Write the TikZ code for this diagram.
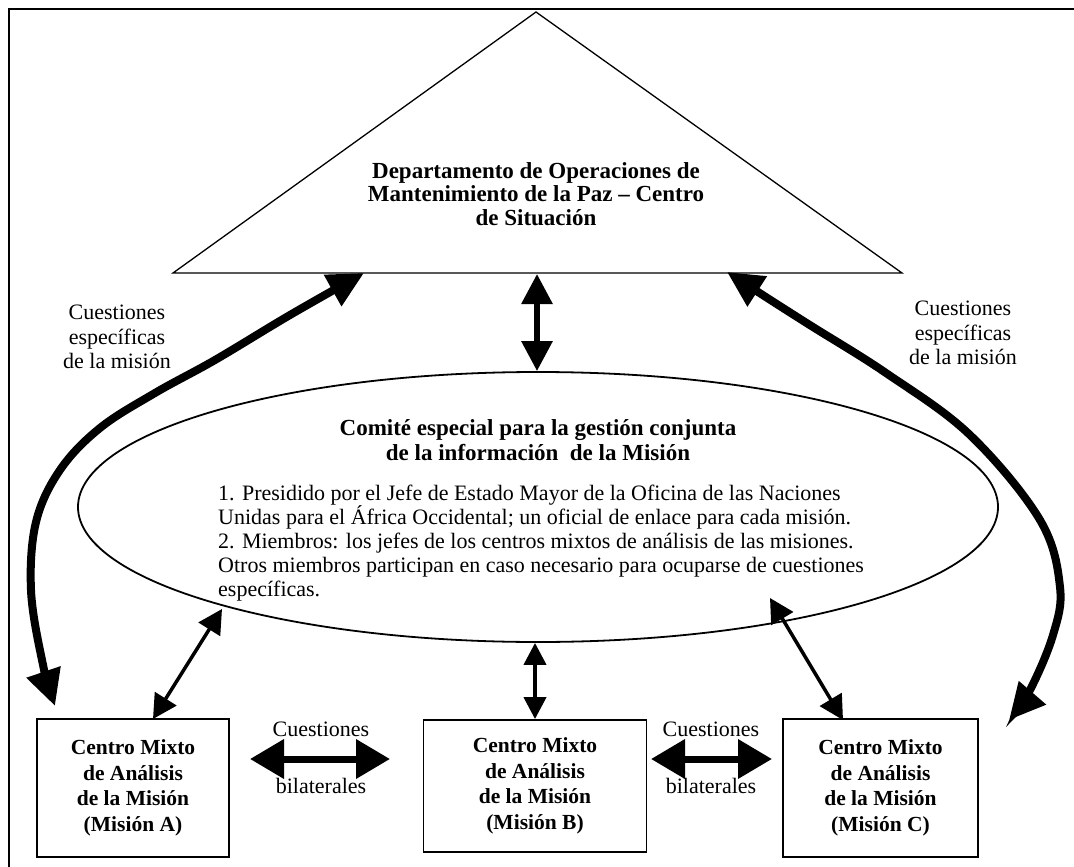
\documentclass[tikz,border=0pt]{standalone}
\usepackage{fontspec}
\setmainfont{Liberation Serif}
\usetikzlibrary{arrows.meta,shapes.geometric}
\newcommand\plainsize{\fontsize{22}{24.5}\selectfont}
\newcommand\bodysize{\fontsize{22}{24}\selectfont}
\newcommand\headsize{\fontsize{23}{23.5}\selectfont\bfseries}
\newcommand\titlesize{\fontsize{23}{25}\selectfont\bfseries}
\newcommand\boxsize{\fontsize{21.5}{25.5}\selectfont\bfseries}
\begin{document}
\begin{tikzpicture}[x=1pt,y=-1pt,
  txt/.style={font=\plainsize, align=center, inner sep=0pt},
  bodytxt/.style={font=\bodysize, align=left, inner sep=0pt},
  hqtxt/.style={font=\headsize, align=center, inner sep=0pt},
  comtxt/.style={font=\titlesize, align=center, inner sep=0pt},
  mixbox/.style={draw, line width=1.8pt, font=\boxsize, align=center, inner sep=0pt},
  bigcurve/.style={line width=8pt,
    {Triangle[length=36pt,width=34pt]}-{Triangle[length=36pt,width=34pt]}},
  midlink/.style={line width=6pt,
    {Triangle[length=30pt,width=30pt]}-{Triangle[length=30pt,width=30pt]}},
  hlink/.style={line width=7pt,
    {Triangle[length=34pt,width=38pt]}-{Triangle[length=34pt,width=38pt]}},
  thinlink/.style={line width=3.5pt,
    {Triangle[length=24pt,width=25pt]}-{Triangle[length=24pt,width=25pt]}},
  vlink/.style={line width=4pt,
    {Triangle[length=22pt,width=22pt]}-{Triangle[length=22pt,width=22pt]}}]
\useasboundingbox (0,0) rectangle (1074,867);

% page frame
\draw[line width=1.5pt] (9,867) -- (9,9) -- (1074,9);

% headquarters triangle
\coordinate (apex) at (536,12);
\coordinate (tl) at (173,273);
\coordinate (tr) at (902,273);
\draw[line width=1.3pt, line join=miter] (apex) -- (tr) -- (tl) -- cycle;
\node[hqtxt] (dpko) at (536,194) {Departamento de Operaciones de\\Mantenimiento de la Paz -- Centro\\de Situación};

% committee ellipse
\node[draw, ellipse, line width=1.8pt, minimum width=920pt, minimum height=270pt, inner sep=0pt] (com) at (538,507) {};
\node[comtxt] (comt) at (538,440) {Comité especial para la gestión conjunta\\de la información \ de la Misión};
\node[bodytxt, anchor=west] (comb) at (218,543) {1. Presidido por el Jefe de Estado Mayor de la Oficina de las Naciones\\Unidas para el África Occidental; un oficial de enlace para cada misión.\\2. Miembros: los jefes de los centros mixtos de análisis de las misiones.\\Otros miembros participan en caso necesario para ocuparse de cuestiones\\específicas.};

% mission analysis centres
\node[mixbox, minimum width=192pt, minimum height=138pt] (ma) at (133,788) {Centro Mixto\\de Análisis\\de la Misión\\(Misión A)};
\node[mixbox, minimum width=223pt, minimum height=132pt] (mb) at (535,786) {Centro Mixto\\de Análisis\\de la Misión\\(Misión B)};
\node[mixbox, minimum width=195pt, minimum height=138pt] (mc) at (880.5,788) {Centro Mixto\\de Análisis\\de la Misión\\(Misión C)};

% headquarters <-> committee
\coordinate (tbase) at (537,274);
\draw[midlink] (tbase) -- (tbase |- com.north);

% committee <-> centres
\coordinate (ea) at (222,609);
\coordinate (ec) at (770,598);
\coordinate (maT) at (153,719);
\coordinate (mcT) at (843,720);
\draw[thinlink] (maT) -- (ea);
\draw[vlink] (mb.north) -- (mb.north |- com.south);
\draw[thinlink] (mcT) -- (ec);

% bilateral links
\coordinate (h1a) at (250,759);
\coordinate (h1b) at (390,759);
\coordinate (h2a) at (651,759);
\coordinate (h2b) at (772,759);
\draw[hlink] (h1a) -- (h1b);
\draw[hlink] (h2a) -- (h2b);
\node[txt] (q1) at (321,729) {Cuestiones};
\node[txt] (b1) at (321,786) {bilaterales};
\node[txt] (q2) at (711,729) {Cuestiones};
\node[txt] (b2) at (711,786) {bilaterales};

% mission-specific links to headquarters
\coordinate (ltip) at (364,273);
\coordinate (lbot) at (55,706);
\coordinate (rtip) at (727,272);
\coordinate (rbot) at (1009,720);
\draw[bigcurve] plot[smooth, tension=0.6] coordinates {(lbot) (42,660) (31,590) (36,522) (60,470) (100,428) (155,393) (215,360) (290,315) (ltip)};
\draw[bigcurve] plot[smooth, tension=0.6] coordinates {(rtip) (805,322) (886,373) (970,435) (1040,520) (1060,587) (1053,635) (1030,690) (rbot)};
\node[txt] (ql) at (117,337) {Cuestiones\\específicas\\de la misión};
\node[txt] (qr) at (963,333) {Cuestiones\\específicas\\de la misión};
\end{tikzpicture}
\end{document}
